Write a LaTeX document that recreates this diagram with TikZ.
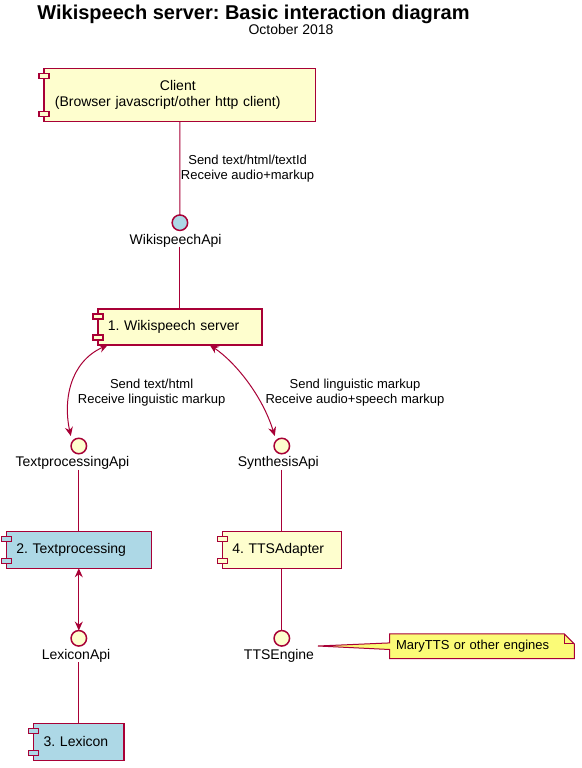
\documentclass[tikz,border=0pt]{standalone}
\usepackage{fontspec}
\setmainfont{Liberation Sans}
\usetikzlibrary{calc,arrows.meta,backgrounds}
\definecolor{pu}{HTML}{A80036}
\definecolor{compy}{HTML}{FEFECE}
\definecolor{lblue}{HTML}{ADD8E6}
\definecolor{notey}{HTML}{FBFB77}
\newcommand\compports[2]{%
  \draw[portline, fill=#2] ($(#1.north west)+(-5,5)$) rectangle ($(#1.north west)+(5,10)$);
  \draw[portline, fill=#2] ($(#1.south west)+(-5,-10)$) rectangle ($(#1.south west)+(5,-5)$);}
\frenchspacing
\begin{document}
\begin{tikzpicture}[x=1pt,y=-1pt,
  comp/.style={draw=pu, line width=1.5pt, inner xsep=10pt, inner ysep=0pt, outer sep=0pt,
    align=left, font=\fontsize{14}{16}\selectfont},
  iface/.style={circle, draw=pu, line width=1.5pt, minimum size=15.5pt, inner sep=0pt, outer sep=0pt},
  ilabel/.style={anchor=base, inner sep=0pt, outer sep=0pt, font=\fontsize{14}{16}\selectfont},
  elabel/.style={anchor=base, inner sep=0pt, align=center, font=\fontsize{13}{15}\selectfont},
  conn/.style={draw=pu, line width=1pt},
  dbl/.style={conn, {Stealth[length=9pt,width=8pt,inset=3pt]}-{Stealth[length=9pt,width=8pt,inset=3pt]}},
  portline/.style={draw=pu, line width=1.5pt},
  notebox/.style={inner xsep=6.4pt, inner ysep=0pt, outer sep=0pt, align=left, font=\fontsize{13}{15}\selectfont},
  noteline/.style={draw=pu, line width=1pt}]
\useasboundingbox (0,0) rectangle (581,768);

% title
\node[anchor=base, inner sep=0pt, font=\fontsize{20}{23}\selectfont\bfseries] (title) at (253.5,19.3) {Wikispeech server: Basic interaction diagram};
\node[anchor=base, inner sep=0pt, font=\fontsize{14}{16}\selectfont] (subtitle) at (291,35) {October 2018};

% components
\node[comp, fill=compy, inner xsep=11pt, text width=249.7pt, minimum height=53.4pt] (client) at (179.75,95)
  {\hspace*{105pt}Client\\(Browser javascript/other http client)};
\node[comp, fill=compy, text width=144.2pt, minimum height=36pt] (srv) at (179.9,327) {1. Wikispeech server};
\node[comp, fill=lblue, text width=125pt, minimum height=36.6pt] (tp) at (78.8,550) {2. Textprocessing};
\node[comp, fill=compy, text width=99pt, minimum height=36.6pt] (tts) at (281.8,550) {4. TTSAdapter};
\node[comp, fill=lblue, text width=70.3pt, minimum height=37pt] (lex) at (78.8,741.8) {3. Lexicon};
\compports{client}{compy}
\compports{srv}{compy}
\compports{tp}{lblue}
\compports{tts}{compy}
\compports{lex}{lblue}

% interfaces
\node[iface, fill=lblue] (wapi) at (179.9,222.7) {};
\node[iface, fill=compy] (tpapi) at (78.8,446) {};
\node[iface, fill=compy] (synapi) at (281.8,446) {};
\node[iface, fill=compy] (lexapi) at (78.8,638.3) {};
\node[iface, fill=compy] (ttseng) at (281.8,638.3) {};
\node[ilabel] (wlab) at (175.6,244.5) {WikispeechApi};
\node[ilabel] (tplab) at (72.5,466.7) {TextprocessingApi};
\node[ilabel] (synlab) at (278.3,466.7) {SynthesisApi};
\node[ilabel] (lexlab) at (76,659.3) {LexiconApi};
\node[ilabel] (ttslab) at (279,659.3) {TTSEngine};

% connectors
\draw[conn] (client.south) -- (wapi.north);
\draw[conn] (wapi |- wlab.south) -- (srv.north);
\draw[dbl] ($(srv.south west)+(10,0)$) .. controls (70,362) and (63,400) .. ($(tpapi.center)+(-8,-10)$);
\draw[dbl] ($(srv.south west)+(112,0)$) .. controls (235,362) and (262,395) .. ($(synapi.center)+(-7,-10)$);
\draw[conn] (tpapi |- tplab.south) -- (tp.north);
\draw[conn] (synapi |- synlab.south) -- (tts.north);
\draw[dbl] (tp.south) -- (lexapi.north);
\draw[conn] (lexapi |- lexlab.south) -- (lex.north);
\draw[conn] (tts.south) -- (ttseng.north);

% connector labels (anchor = baseline of last line)
\node[elabel] (l1) at (247.6,179.4) {Send text/html/textId\\Receive audio+markup};
\node[elabel] (l2) at (151.6,403.5) {Send text/html\\Receive linguistic markup};
\node[elabel] (l3) at (355,403.5) {Send linguistic markup\\Receive audio+speech markup};

% note
\node[notebox, text width=171.9pt, minimum height=24.6pt] (note) at (482,646.2) {MaryTTS or other engines};
\coordinate (ntip) at (318,646);
\begin{scope}[on background layer]
\fill[white] (0,0) rectangle (581,768);
\draw[noteline, fill=notey, line join=miter] (note.north west) -- ($(note.north east)+(-10,0)$) -- ($(note.north east)+(0,10)$)
  -- (note.south east) -- (note.south west) -- ($(note.west)+(0,3.3)$) -- (ntip) -- ($(note.west)+(0,-3.3)$) -- cycle;
\draw[noteline] ($(note.north east)+(-10,0)$) -- ($(note.north east)+(-10,10)$) -- ($(note.north east)+(0,10)$);
\end{scope}
\end{tikzpicture}
\end{document}
